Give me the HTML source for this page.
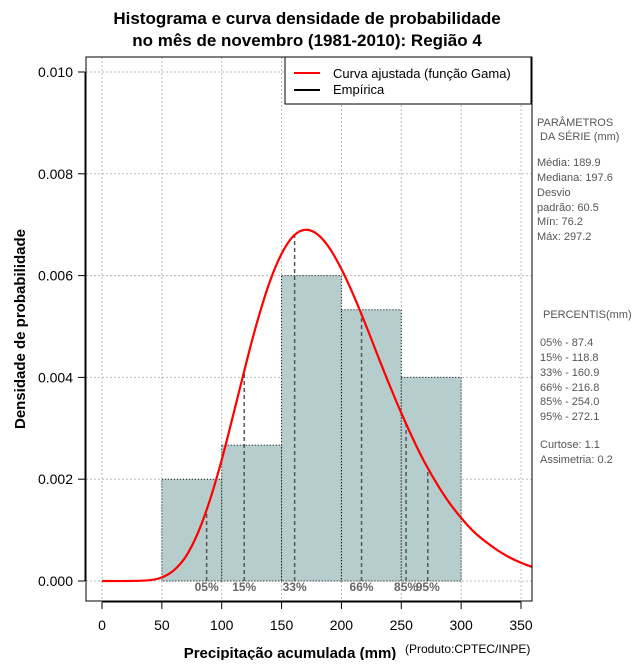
<!DOCTYPE html>
<html><head><meta charset="utf-8"><style>
body{margin:0;background:#fff;}
svg text{font-family:"Liberation Sans",sans-serif;}
</style></head><body>
<svg id="chart" width="640" height="660" xmlns="http://www.w3.org/2000/svg">
<text x="307" y="24" text-anchor="middle" font-size="17" font-weight="bold">Histograma e curva densidade de probabilidade</text>
<text x="307" y="46" text-anchor="middle" font-size="17" font-weight="bold">no mês de novembro (1981-2010): Região 4</text>
<g id="grid"></g>
<g id="bars"></g>
<g id="pct"></g>
<g id="curve"></g>
<rect x="86" y="57" width="446" height="544" fill="none" stroke="#000" stroke-width="1"/>
<g id="axes"></g>
<text transform="translate(25,329) rotate(-90)" text-anchor="middle" font-size="15" font-weight="bold">Densidade de probabilidade</text>
<text x="290" y="658" text-anchor="middle" font-size="15" font-weight="bold">Precipitação acumulada (mm)</text>
<text x="405" y="653" font-size="12">(Produto:CPTEC/INPE)</text>
<g>
<rect x="285" y="57" width="246" height="47" fill="#fff" stroke="#000"/>
<line x1="294" y1="73" x2="320" y2="73" stroke="#f00" stroke-width="2"/>
<text x="333" y="78" font-size="13">Curva ajustada (função Gama)</text>
<line x1="294" y1="90" x2="320" y2="90" stroke="#000" stroke-width="2"/>
<text x="333" y="94" font-size="13">Empírica</text>
</g>
<g font-size="11" fill="#555">
<text x="537" y="126">PARÂMETROS</text>
<text x="540" y="140">DA SÉRIE (mm)</text>
<text x="537" y="166">Média:  189.9</text>
<text x="537" y="181">Mediana:  197.6</text>
<text x="537" y="196">Desvio</text>
<text x="537" y="211">padrão:  60.5</text>
<text x="537" y="225">Mín:  76.2</text>
<text x="537" y="240">Máx:  297.2</text>
<text x="543" y="318">PERCENTIS(mm)</text>
<text x="540" y="346">05% -  87.4</text>
<text x="540" y="361">15% -  118.8</text>
<text x="540" y="376">33% -  160.9</text>
<text x="540" y="391">66% -  216.8</text>
<text x="540" y="405">85% -  254.0</text>
<text x="540" y="420">95% -  272.1</text>
<text x="540" y="448">Curtose:  1.1</text>
<text x="540" y="463">Assimetria:  0.2</text>
</g>
</svg>
<script>
const binStarts=[50,100,150,200,250];
const binWidth=50;
const binDensity=[0.002,0.00267,0.006,0.00533,0.004];
const curveX=[0,20,40,50,60,70,80,90,100,110,120,130,140,150,160,170,180,190,200,210,220,230,240,250,260,270,280,290,300,310,320,330,340,350,360];
const curveY=[0,0.00000,0.000016,0.00007,0.00021,0.00048,0.00094,0.00158,0.00238,0.0033,0.00424,0.00512,0.00587,0.00643,0.00678,0.0069,0.00681,0.00654,0.00613,0.00562,0.00505,0.00445,0.00386,0.0033,0.00278,0.00231,0.0019,0.00154,0.00124,0.00098,0.00078,0.00061,0.00047,0.00036,0.00027];
const pctLabels=["05%","15%","33%","66%","85%","95%"];
const pctValues=[87.4,118.8,160.9,216.8,254.0,272.1];
const xTicks=[0,50,100,150,200,250,300,350];
const yTicks=[0,0.002,0.004,0.006,0.008,0.010];
const yTickLabels=["0.000","0.002","0.004","0.006","0.008","0.010"];
const NS="http://www.w3.org/2000/svg";
function xs(v){return 102+v*(419/350);}
function ys(v){return 581-v*(509/0.010);}
function mk(tag,attrs,parent){const e=document.createElementNS(NS,tag);for(const k in attrs)e.setAttribute(k,attrs[k]);parent.appendChild(e);return e;}
function gammaAt(x){for(let i=1;i<curveX.length;i++){if(x<=curveX[i]){const t=(x-curveX[i-1])/(curveX[i]-curveX[i-1]);return curveY[i-1]+t*(curveY[i]-curveY[i-1]);}}return curveY[curveY.length-1];}
const grid=document.getElementById('grid');
xTicks.forEach(t=>{const l=mk('line',{x1:xs(t),x2:xs(t),y1:57,y2:601,stroke:'#bbb','stroke-dasharray':'2,2'},grid);

});
yTicks.forEach(t=>{const l=mk('line',{x1:86,x2:532,y1:ys(t),y2:ys(t),stroke:'#bbb','stroke-dasharray':'2,2'},grid);

});
const bars=document.getElementById('bars');
binStarts.forEach((b,i)=>{const r=mk('rect',{x:xs(b),y:ys(binDensity[i]),width:xs(b+binWidth)-xs(b),height:ys(0)-ys(binDensity[i]),fill:'#b5cdcd',stroke:'#000','stroke-dasharray':'1,2'},bars);

});
const pct=document.getElementById('pct');
pctValues.forEach((v,i)=>{const l=mk('line',{x1:xs(v),x2:xs(v),y1:ys(0),y2:ys(gammaAt(v)),stroke:'#555','stroke-width':1.5,'stroke-dasharray':'4,3'},pct);


const t=mk('text',{x:xs(v),y:591,'text-anchor':'middle','font-size':12,'font-weight':'bold',fill:'#666'},pct);t.textContent=pctLabels[i];

});
const cg=document.getElementById('curve');
const cp=mk('clipPath',{id:'clip'},cg);mk('rect',{x:86,y:57,width:446,height:544},cp);
const P=curveX.map((x,i)=>[xs(x),ys(curveY[i])]);
let d='M'+P[0][0].toFixed(1)+','+P[0][1].toFixed(1);
for(let i=0;i<P.length-1;i++){const p0=P[Math.max(0,i-1)],p1=P[i],p2=P[i+1],p3=P[Math.min(P.length-1,i+2)];
const c1=[p1[0]+(p2[0]-p0[0])/6,p1[1]+(p2[1]-p0[1])/6],c2=[p2[0]-(p3[0]-p1[0])/6,p2[1]-(p3[1]-p1[1])/6];
d+='C'+c1.map(n=>n.toFixed(1)).join(',')+' '+c2.map(n=>n.toFixed(1)).join(',')+' '+p2[0].toFixed(1)+','+p2[1].toFixed(1);}
const p=mk('path',{d:d,fill:'none',stroke:'#f00','stroke-width':2.2,'clip-path':'url(#clip)'},cg);


const ax=document.getElementById('axes');
mk('line',{x1:xs(0),x2:xs(350),y1:602,y2:602,stroke:'#000'},ax);
xTicks.forEach(t=>{mk('line',{x1:xs(t),x2:xs(t),y1:602,y2:609,stroke:'#000'},ax);const tx=mk('text',{x:xs(t),y:630,'text-anchor':'middle','font-size':14},ax);tx.textContent=t;

});
mk('line',{x1:85,x2:85,y1:ys(0),y2:ys(0.010),stroke:'#000'},ax);
yTicks.forEach((t,i)=>{mk('line',{x1:78,x2:85,y1:ys(t),y2:ys(t),stroke:'#000'},ax);const tx=mk('text',{x:73,y:ys(t)+5,'text-anchor':'end','font-size':14},ax);tx.textContent=yTickLabels[i];

});
</script>
</body></html>
